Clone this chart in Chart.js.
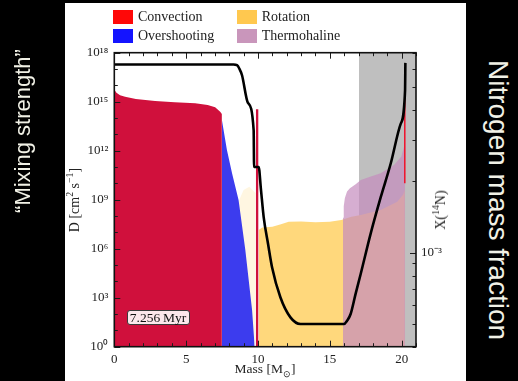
<!DOCTYPE html>
<html>
<head>
<meta charset="utf-8">
<script src="https://cdn.jsdelivr.net/npm/chart.js@4"></script>
<style>
body{margin:0;background:#000;width:518px;height:381px;overflow:hidden;position:relative;font-family:'Liberation Serif',serif}
#panel{position:absolute;left:65px;top:3px;width:401px;height:378px;background:#fff}
.rot{position:absolute;white-space:nowrap;transform:translate(-50%,-50%) rotate(-90deg)}
.cw{position:absolute;white-space:nowrap;transform:translate(-50%,-50%) rotate(90deg)}
.hz{position:absolute;white-space:nowrap;transform:translate(-50%,-50%)}
sup,sub{font-size:70%;line-height:0}
#legend{position:absolute;left:113px;top:10px;display:grid;grid-template-columns:123.7px auto;row-gap:5px;font-size:14px;color:#222}
#legend div{display:flex;align-items:center;height:14px}
#legend span.sw{display:inline-block;width:20px;height:14px;margin-right:5px}
#age{position:absolute;left:126.5px;top:309.5px;width:61px;height:13px;border:1.5px solid #3a3a3a;border-radius:3px;background:#fce7eb;font-size:13.5px;line-height:13px;text-align:center;color:#111}
</style>
</head>
<body>
<div id="panel"><canvas id="chart" width="401" height="378"></canvas></div>
<div id="legend"></div>
<div id="age">7.256&#8201;Myr</div>
<div class="rot" style="left:75px;top:200px;font-size:14px;color:#222">D [cm<sup>2</sup> s<sup>−1</sup>]</div>
<div class="rot" style="left:441px;top:210px;font-size:14px;color:#222">X(<sup>14</sup>N)</div>
<div class="hz" style="left:265px;top:369px;font-size:13.5px;color:#222">Mass [M<sub>⊙</sub>]</div>
<div class="rot" style="left:23px;top:131px;font-family:'Liberation Sans',sans-serif;font-size:22px;color:#f1f1e6">“Mixing strength”</div>
<div class="cw" style="left:498px;top:200px;font-family:'Liberation Sans',sans-serif;font-size:28px;color:#f1f1e6">Nitrogen mass fraction</div>
<script>
// mass coordinate in Msun, mixing coefficients as log10(D / cm2 s-1)
const convMass = [0, 0.15, 0.4, 0.75, 1.5, 2.84, 4.2, 5.63, 6.5, 7.02, 7.37, 7.49]
const convLogD = [15.75, 15.55, 15.4, 15.31, 15.17, 15.04, 14.96, 14.9, 14.8, 14.66, 14.39, 14.25]
const shellMass = [9.85, 10.04]
const shellLogD = [14.54, 14.54]
const envConvMass = [20.22, 20.22]
const envConvLogD = [15.3, 10.0]
const ovMass = [7.49, 7.84, 8.2, 8.65, 9.12, 9.59, 9.77]
const ovLogD = [13.88, 12.04, 10.6, 8.98, 5.92, 2.25, 0]
const rotMass = [10.05, 10.3, 11, 11.6, 12.14, 13, 14, 15, 15.8, 16.5, 17.16, 18.54, 19.7, 20.1, 20.22]
const rotLogD = [7.15, 7.3, 7.35, 7.5, 7.65, 7.67, 7.62, 7.65, 7.76, 7.95, 8.07, 8.37, 8.88, 9.3, 9.6]
const rotFaintMass = [8.6, 9.0, 9.4, 9.84]
const rotFaintLogD = [8.8, 9.6, 9.8, 9.4]
const thMass = [15.92, 15.97, 16.05, 16.2, 16.4, 16.8, 17.16, 17.8, 18.54, 19.47, 19.98, 20.17, 20.24]
const thLogD = [7.9, 8.6, 9.1, 9.5, 9.7, 9.95, 10.21, 10.4, 10.62, 11.13, 11.64, 12.25, 12.86]
const grayBand = [17.03, 21]

// nitrogen mass fraction, units of 1e-3
const nMass = [0, 4, 8.3, 8.54, 8.7, 8.89, 9.3, 9.7, 9.73, 10.05, 10.2, 10.4, 10.7, 10.98, 11.56, 12.26, 12.96, 14, 15.98, 16.2, 16.45, 16.8, 17.15, 17.84, 18.54, 19.24, 19.94, 20.24, 20.26]
const nFrac = [6.24, 6.24, 6.24, 6.2, 6.0, 5.62, 4.3, 3.29, 2.3, 2.3, 1.87, 1.41, 1.09, 0.867, 0.647, 0.532, 0.499, 0.499, 0.499, 0.515, 0.55, 0.671, 0.812, 1.2, 1.71, 2.38, 3.51, 4.86, 6.34]

const xTicks = [0, 1, 2, 3, 4, 5, 6, 7, 8, 9, 10, 11, 12, 13, 14, 15, 16, 17, 18, 19, 20, 21]
const dTickExps = [0, 1, 2, 3, 4, 5, 6, 7, 8, 9, 10, 11, 12, 13, 14, 15, 16, 17, 18]
const nTicks = [4e-4, 5e-4, 6e-4, 7e-4, 8e-4, 9e-4, 1e-3, 2e-3, 3e-3, 4e-3, 5e-3, 6e-3, 7e-3]

const legendNames = ['Convection', 'Rotation', 'Overshooting', 'Thermohaline']
const legendColors = ['#ff0808', '#ffc84f', '#1414ff', '#c996bb']

const sup = {'0':'⁰','1':'¹','2':'²','3':'³','4':'⁴','5':'⁵','6':'⁶','7':'⁷','8':'⁸','9':'⁹','-':'⁻'}
function powLabel(e){
    return '10' + String(e).split('').map(c => sup[c]).join('')
}

function pts(mass, logD){
    let out = []
    for(let i = 0; i < mass.length; i++){
        out.push({x: mass[i], y: Math.pow(10, logD[i])})
    }
    return out
}

function area(data, color, order){
    return {data: data, fill: 'start', backgroundColor: color, borderWidth: 0, pointRadius: 0, tension: 0, order: order, yAxisID: 'y'}
}

var nPts = []
for(let i = 0; i < nMass.length; i++){
    nPts.push({x: nMass[i], y: nFrac[i] * 1e-3})
}

var datasets = [
    area([{x: grayBand[0], y: 1e18}, {x: grayBand[1], y: 1e18}], '#bfbfbf', 10),
    area(pts(rotFaintMass, rotFaintLogD), 'rgba(255,214,120,0.22)', 9),
    area(pts(rotMass, rotLogD), '#ffd87c', 8),
    area(pts(ovMass, ovLogD), '#3c3cee', 7),
    area(pts(convMass, convLogD), '#d0103c', 6),
    area(pts(shellMass, shellLogD), '#d0103c', 6),
    area(pts(thMass, thLogD), 'rgba(196,140,190,0.7)', 5),
    {data: pts(envConvMass, envConvLogD), borderColor: '#f0102a', borderWidth: 1.5, pointRadius: 0, fill: false, order: 3, yAxisID: 'y'},
    {data: nPts, borderColor: '#000', borderWidth: 2.6, pointRadius: 0, fill: false, cubicInterpolationMode: 'monotone', order: 1, yAxisID: 'yN'}
]

const inwardTicks = {
    id: 'inwardTicks',
    afterDatasetsDraw(chart){
        const ctx = chart.ctx
        const a = chart.chartArea
        const s = chart.scales
        ctx.save()
        ctx.strokeStyle = '#1c1c1c'
        ctx.lineWidth = 1
        function seg(x1, y1, x2, y2){
            ctx.beginPath(); ctx.moveTo(x1, y1); ctx.lineTo(x2, y2); ctx.stroke()
        }
        s.x.ticks.forEach(t => {
            let px = Math.round(s.x.getPixelForValue(t.value)) + 0.5
            let len = t.value % 5 === 0 ? 6 : 3.5
            seg(px, a.bottom, px, a.bottom - len)
            seg(px, a.top, px, a.top + len)
        })
        s.y.ticks.forEach(t => {
            let py = Math.round(s.y.getPixelForValue(t.value)) + 0.5
            let e = Math.round(Math.log10(t.value))
            seg(a.left, py, a.left + (e % 3 === 0 ? 6 : 3.5), py)
        })
        s.yN.ticks.forEach(t => {
            let py = Math.round(s.yN.getPixelForValue(t.value)) + 0.5
            let lg = Math.log10(t.value)
            let major = Math.abs(lg - Math.round(lg)) < 1e-6
            seg(a.right, py, a.right - (major ? 6 : 3.5), py)
        })
        ctx.lineWidth = 1.6
        ctx.strokeStyle = '#111'
        ctx.strokeRect(a.left, a.top, a.right - a.left, a.bottom - a.top)
        ctx.restore()
    }
}

const tickFont = {family: "'Liberation Serif', serif", size: 13}

const ctx = document.getElementById('chart').getContext('2d')
const chart = new Chart(ctx, {
    type: 'line',
    data: {datasets: datasets},
    plugins: [inwardTicks],
    options: {
        responsive: false,
        animation: false,
        devicePixelRatio: 1,
        layout: {padding: {top: 49.7, left: 0, right: 0, bottom: 0}},
        plugins: {legend: {display: false}, tooltip: {enabled: false}},
        scales: {
            x: {
                type: 'linear', min: 0, max: 21,
                afterBuildTicks: s => { s.ticks = xTicks.map(v => ({value: v})) },
                afterFit: s => { s.height = 34.3 },
                grid: {display: false, drawTicks: false},
                border: {display: false},
                ticks: {autoSkip: false, maxRotation: 0, padding: 5, color: '#222', font: tickFont,
                    callback: v => v % 5 === 0 ? String(v) : ''}
            },
            y: {
                type: 'logarithmic', position: 'left', min: 1, max: 1e18,
                afterBuildTicks: s => { s.ticks = dTickExps.map(e => ({value: Math.pow(10, e)})) },
                afterFit: s => { s.width = 49.3 },
                grid: {display: false, drawTicks: false},
                border: {display: false},
                ticks: {autoSkip: false, padding: 6, color: '#222', font: tickFont,
                    callback: v => {
                        let e = Math.round(Math.log10(v))
                        return e % 3 === 0 ? powLabel(e) : ''
                    }}
            },
            yN: {
                type: 'logarithmic', position: 'right', min: 4e-4, max: 7e-3,
                afterBuildTicks: s => { s.ticks = nTicks.map(v => ({value: v})) },
                afterFit: s => { s.width = 50 },
                grid: {display: false, drawTicks: false},
                border: {display: false},
                ticks: {autoSkip: false, padding: 5, color: '#222', font: tickFont,
                    callback: v => {
                        let lg = Math.log10(v)
                        return Math.abs(lg - Math.round(lg)) < 1e-6 ? powLabel(Math.round(lg)) : ''
                    }}
            }
        }
    }
})

var legend = document.getElementById('legend')
for(let i in legendNames){
    let item = document.createElement('div')
    item.innerHTML = '<span class="sw" style="background:' + legendColors[i] + '"></span>' + legendNames[i]
    legend.appendChild(item)
}
</script>
</body>
</html>
